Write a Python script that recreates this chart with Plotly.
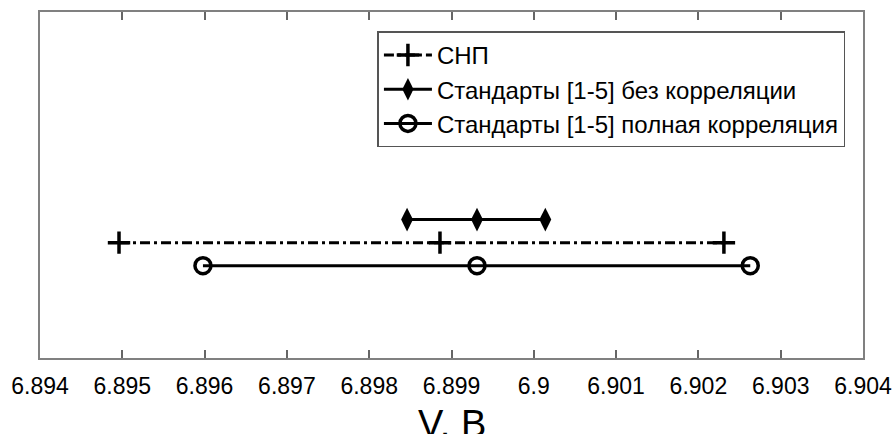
import plotly.graph_objects as go

# Interval estimates of the voltage: lower bound, mean, upper bound
series_names = [
    "СНП",
    "Стандарты [1-5] без корреляции",
    "Стандарты [1-5] полная корреляция",
]
snp_x = [6.89496, 6.89886, 6.90231]
nocorr_x = [6.89846, 6.89931, 6.90014]
fullcorr_x = [6.89598, 6.89931, 6.90263]
row_levels = [1.0, 1.2, 0.8]   # vertical placement of each interval

x_ticks = [6.894, 6.895, 6.896, 6.897, 6.898, 6.899, 6.9, 6.901, 6.902, 6.903, 6.904]
x_tick_labels = ["6.894", "6.895", "6.896", "6.897", "6.898", "6.899", "6.9",
                 "6.901", "6.902", "6.903", "6.904"]
x_title = "V, B"

fig = go.Figure()

fig.add_trace(go.Scatter(
    x=snp_x, y=[row_levels[0]] * len(snp_x), name=series_names[0],
    mode="lines+markers",
    line=dict(color="black", width=3, dash="10px,4px,3px,4px"),
    marker=dict(symbol="cross-thin", size=16, line=dict(color="black", width=3.5)),
))
fig.add_trace(go.Scatter(
    x=nocorr_x, y=[row_levels[1]] * len(nocorr_x), name=series_names[1],
    mode="lines+markers",
    line=dict(color="black", width=3),
    marker=dict(symbol="diamond-tall", size=17, color="black"),
))
fig.add_trace(go.Scatter(
    x=fullcorr_x, y=[row_levels[2]] * len(fullcorr_x), name=series_names[2],
    mode="lines+markers",
    line=dict(color="black", width=3),
    marker=dict(symbol="circle-open", size=16, line=dict(color="black", width=3.5)),
))

# Axis title placed as a paper annotation below the tick labels
fig.add_annotation(
    text=x_title, xref="paper", yref="paper", x=0.5, y=-0.125,
    xanchor="center", yanchor="top", showarrow=False,
    font=dict(size=38, color="black"),
)

fig.update_layout(
    width=892, height=434,
    margin=dict(l=40, r=29, t=12, b=76, autoexpand=False),
    paper_bgcolor="white", plot_bgcolor="white",
    font=dict(family="Arial, Liberation Sans, sans-serif", color="black"),
    showlegend=True,
    legend=dict(
        x=0.41, y=0.944, xanchor="left", yanchor="top",
        bgcolor="white", bordercolor="#555555", borderwidth=1.5,
        font=dict(size=24, color="black"),
        itemwidth=48, tracegroupgap=0,
    ),
    xaxis=dict(
        range=[6.894, 6.904],
        tickmode="array", tickvals=x_ticks, ticktext=x_tick_labels,
        ticks="inside", ticklen=8, tickwidth=1.5, tickcolor="#666666",
        showline=True, linecolor="#808080", linewidth=2, mirror="ticks",
        showgrid=False, zeroline=False, automargin=False,
        tickfont=dict(size=23, color="black"), ticklabelstandoff=6,
    ),
    yaxis=dict(
        range=[0, 3],
        showticklabels=False, ticks="",
        showline=True, linecolor="#808080", linewidth=2, mirror=True,
        showgrid=False, zeroline=False, automargin=False,
    ),
)

fig.write_html("out.html")
